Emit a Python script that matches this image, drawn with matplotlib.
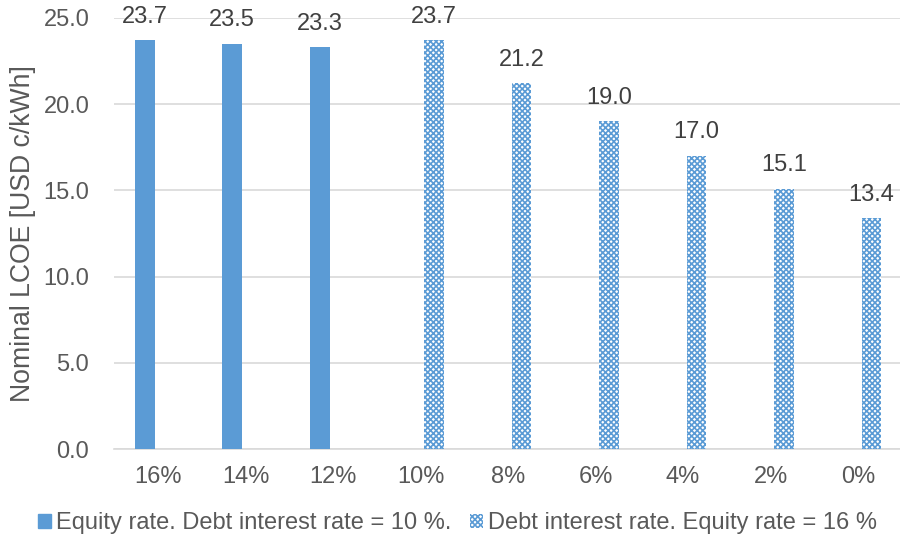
import matplotlib
matplotlib.use("Agg")
import matplotlib.pyplot as plt
import numpy as np
from matplotlib.patches import Patch

categories = ["16%", "14%", "12%", "10%", "8%", "6%", "4%", "2%", "0%"]
equity_vals = [23.7, 23.5, 23.3, None, None, None, None, None, None]
debt_vals = [None, None, None, 23.7, 21.2, 19.0, 17.0, 15.1, 13.4]
series_names = ["Equity rate. Debt interest rate = 10 %.",
                "Debt interest rate. Equity rate = 16 %"]

plt.rcParams['font.family'] = ['Liberation Sans', 'DejaVu Sans']
plt.rcParams['hatch.linewidth'] = 1.2

blue = "#5B9BD5"
fs = 17
fig = plt.figure(figsize=(9, 5.41), dpi=100)
ax = fig.add_axes([0.127, 0.170, 0.875, 0.797])

x = np.arange(len(categories))
w = 0.225
off = 0.152
for i, v in enumerate(equity_vals):
    if v is not None:
        ax.bar(x[i] - off, v, width=w, color=blue, zorder=3)
        ax.text(x[i] - off, v + 0.72, f"{v:.1f}", ha="center", va="bottom",
                fontsize=fs, color="#404040", zorder=4, clip_on=False)
for i, v in enumerate(debt_vals):
    if v is not None:
        ax.bar(x[i] + off, v, width=w, facecolor="white", edgecolor=blue,
               hatch="xxxxxx", linewidth=0, zorder=3)
        ax.text(x[i] + off, v + 0.72, f"{v:.1f}", ha="center", va="bottom",
                fontsize=fs, color="#404040", zorder=4, clip_on=False)

ax.set_xlim(-0.5, len(categories) - 0.5)
ax.set_ylim(0, 25)
ax.set_yticks(np.arange(0, 25.1, 5))
ax.set_yticklabels([f"{t:.1f}" for t in np.arange(0, 25.1, 5)])
ax.set_xticks(x)
ax.set_xticklabels(categories)
ax.tick_params(axis="both", length=0, labelsize=fs, colors="#595959")
ax.tick_params(axis="x", pad=12)
ax.tick_params(axis="y", pad=18)
ax.yaxis.grid(True, color="#D9D9D9", linewidth=1.2, zorder=0)
for s in ["top", "right", "left"]:
    ax.spines[s].set_visible(False)
ax.spines["bottom"].set_color("#D9D9D9")
ax.spines["bottom"].set_linewidth(1.2)
ax.set_ylabel("Nominal LCOE [USD c/kWh]", fontsize=19.2, color="#595959", labelpad=5)

handles = [Patch(facecolor=blue, edgecolor=blue),
           Patch(facecolor="white", edgecolor=blue, hatch="xxxxxx", linewidth=0)]
fig.legend(handles, series_names, loc="center", bbox_to_anchor=(0.508, 0.033),
           ncol=2, frameon=False, fontsize=fs, handlelength=0.55, handleheight=0.55,
           handletextpad=0.2, columnspacing=0.8, labelcolor="#595959")

fig.savefig("out.png", dpi=100)
